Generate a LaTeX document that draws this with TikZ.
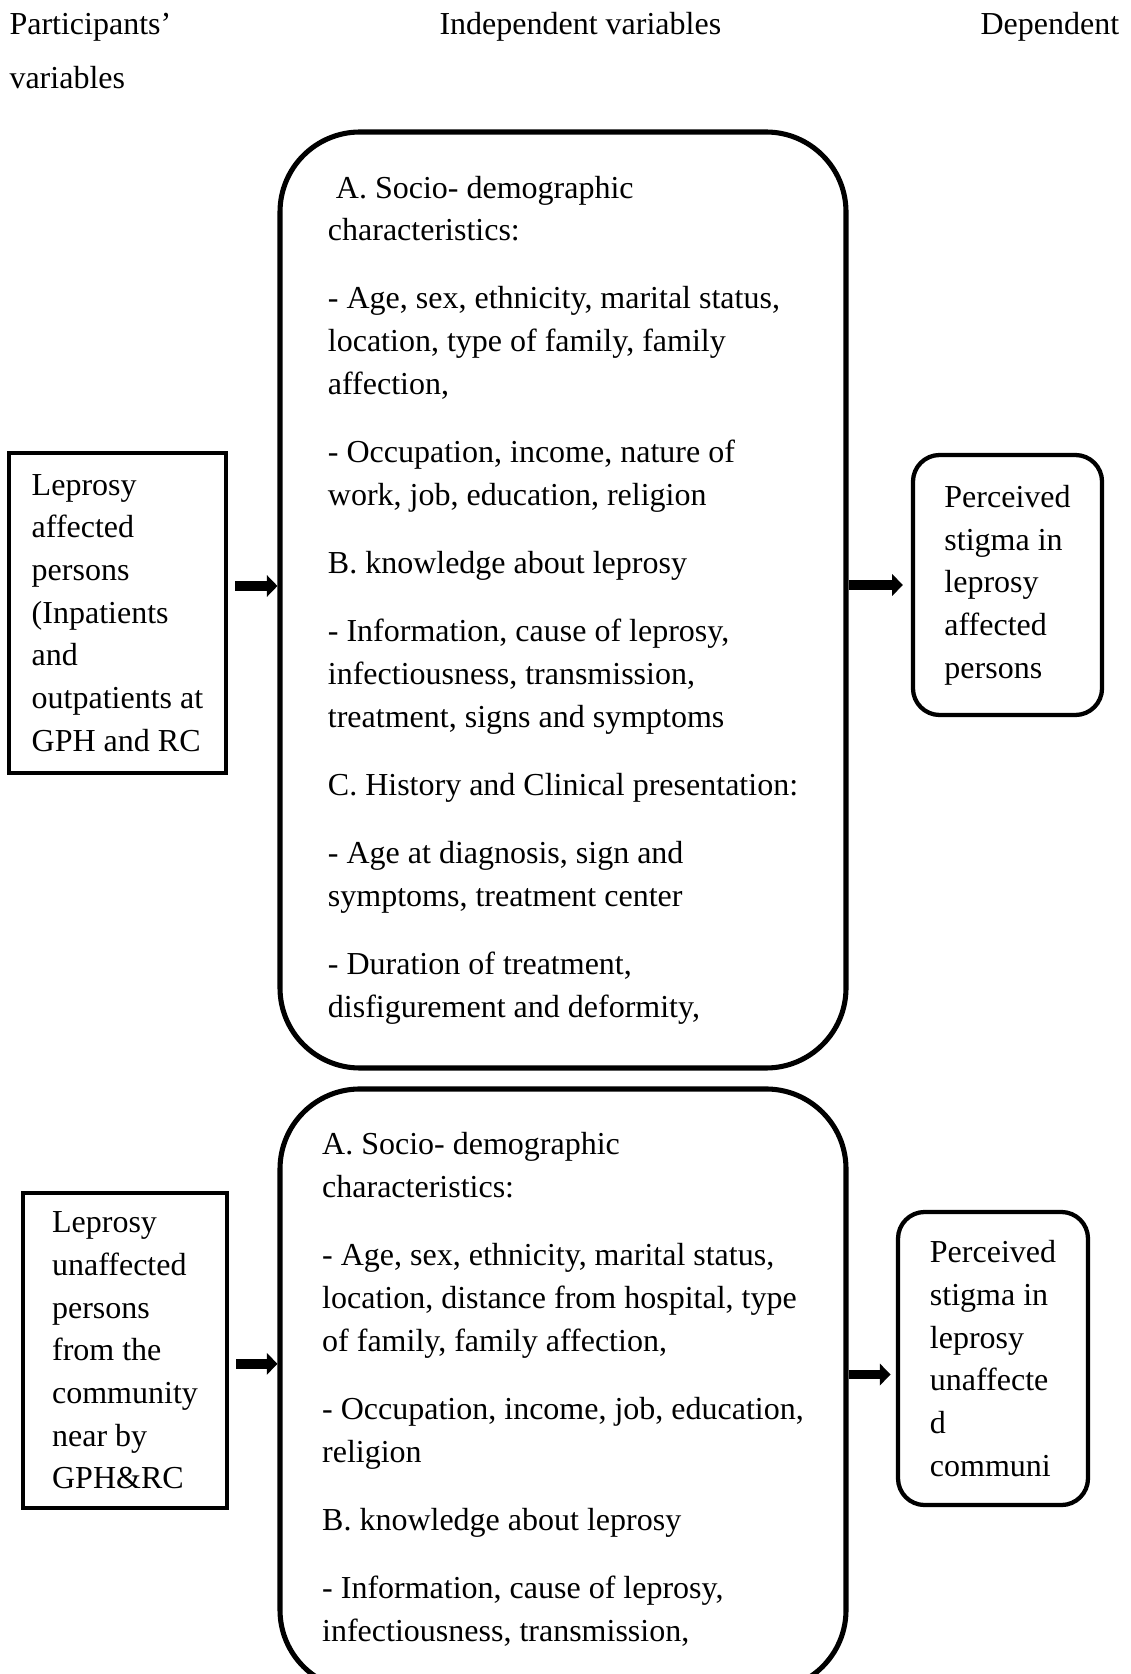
\documentclass[tikz,border=0pt]{standalone}
\usepackage{fontspec}
\setmainfont{Liberation Serif}
\usetikzlibrary{arrows.meta}

\tikzset{
  every node/.style={font=\fontsize{12}{16}\selectfont},
  heading/.style={anchor=base west, inner sep=0pt, align=left},
  bigbox/.style={draw, line width=1.9pt, rounded corners=30pt, align=left,
                 inner sep=0pt, minimum width=212.25pt},
  partbox/.style={draw, line width=1.8pt, align=left, inner sep=0pt},
  stigmabox/.style={draw, line width=1.6pt, rounded corners=10pt, align=left,
                    inner sep=0pt},
  fatarrow/.style={line width=3.6pt, -{Triangle[length=4pt,width=8pt]}},
}

\begin{document}
\begin{tikzpicture}[x=0.375pt,y=-0.375pt]
\useasboundingbox (0,0) rectangle (1130,1674);

% column headings
\node[heading] (hpart) at (9,89) {Participants’\\[4.25pt]variables};
\node[heading] (hind) at (439,35) {Independent variables};
\node[heading] (hdep) at (980,35) {Dependent};

% affected persons
\node[partbox, minimum width=81.4pt, minimum height=120pt] (lb1) at (117.5,613)
  {Leprosy\\affected\\persons\\(Inpatients\\and\\outpatients at\\GPH and RC};
\node[bigbox, minimum height=351pt] (bb1) at (563,600)
  {\hspace*{3pt}A. Socio- demographic\\characteristics:\\[9.6pt]
   - Age, sex, ethnicity, marital status,\\location, type of family, family\\affection,\\[9.6pt]
   - Occupation, income, nature of\\work, job, education, religion\\[9.6pt]
   B. knowledge about leprosy\\[9.6pt]
   - Information, cause of leprosy,\\infectiousness, transmission,\\treatment, signs and symptoms\\[9.6pt]
   C. History and Clinical presentation:\\[9.6pt]
   - Age at diagnosis, sign and\\symptoms, treatment center\\[9.6pt]
   - Duration of treatment,\\disfigurement and deformity,};
\node[stigmabox, minimum width=70.9pt, minimum height=97.5pt] (rb1) at (1007.5,585)
  {Perceived\\stigma in\\leprosy\\affected\\persons};

\draw[fatarrow, shorten <=2.5pt] ([yshift=5.25pt]bb1.west -| lb1.east) -- ([yshift=5.25pt]bb1.west);
\draw[fatarrow, shorten >=3pt] (rb1.west -| bb1.east) -- (rb1.west);

% unaffected community
\node[partbox, minimum width=76.5pt, minimum height=118.1pt] (lb2) at (125,1350.5)
  {Leprosy\\unaffected\\persons\\from the\\community\\near by\\GPH\&RC};
\node[bigbox, minimum height=225.4pt] (bb2) at (563,1389.5)
  {A. Socio- demographic\\characteristics:\\[9.6pt]
   - Age, sex, ethnicity, marital status,\\location, distance from hospital, type\\of family, family affection,\\[9.6pt]
   - Occupation, income, job, education,\\religion\\[9.6pt]
   B. knowledge about leprosy\\[9.6pt]
   - Information, cause of leprosy,\\infectiousness, transmission,};
\node[stigmabox, minimum width=71.25pt, minimum height=109.9pt] (rb2) at (993,1358.5)
  {Perceived\\stigma in\\leprosy\\unaffecte\\d\\communi};

\draw[fatarrow, shorten <=2.5pt] ([yshift=-5pt]lb2.east) -- ([yshift=-5pt]lb2.east -| bb2.west);
\draw[fatarrow, shorten >=2pt] ([yshift=-6pt]rb2.west -| bb2.east) -- ([yshift=-6pt]rb2.west);
\end{tikzpicture}
\end{document}
